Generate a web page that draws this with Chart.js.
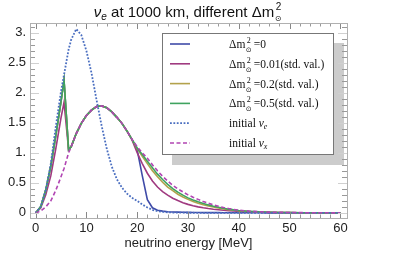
<!DOCTYPE html>
<html>
<head>
<meta charset="utf-8">
<script src="https://cdn.jsdelivr.net/npm/chart.js@4.4.1/dist/chart.umd.min.js"></script>
<style>
  html, body { margin: 0; padding: 0; background: #fff; }
  #wrap { width: 415px; height: 259px; }
</style>
</head>
<body>
<div id="wrap"><canvas id="c" width="415" height="259"></canvas></div>
<script>
// energy grid [MeV]
const energy = [0, 1, 2, 3, 4, 5, 5.6, 6.5, 7, 8, 9, 10, 11, 12, 13, 14, 15, 16, 17, 18, 19,
  20, 21, 22, 23, 24, 25, 26, 27, 28, 29, 30, 31, 32, 33, 34, 35, 36, 37, 38, 39, 40,
  42, 44, 46, 48, 50, 52, 54, 56, 58, 60];

// initial nu_e (dotted)
const nuE = [0, 0.1, 0.38, 0.82, 1.45, 2.02, 2.3, 2.72, 2.88, 3.06, 2.96, 2.7, 2.33, 1.88, 1.45, 1.07, 0.77, 0.56, 0.42, 0.32, 0.25,
  0.2, 0.14, 0.09, 0.05, 0.03, 0.018, 0.01, 0.006, 0.004, 0.003, 0.002, 0.002, 0.001, 0.001, 0.001, 0.001, 0, 0, 0, 0, 0,
  0, 0, 0, 0, 0, 0, 0, 0, 0, 0];
// initial nu_x (dashed)
const nuX = [0, 0.03, 0.1, 0.2, 0.38, 0.6, 0.74, 1.0, 1.1, 1.32, 1.49, 1.62, 1.71, 1.77, 1.78, 1.75, 1.68, 1.59, 1.49, 1.36, 1.22,
  1.1, 1.0, 0.91, 0.8, 0.7, 0.61, 0.53, 0.46, 0.4, 0.35, 0.3, 0.26, 0.225, 0.19, 0.16, 0.135, 0.11, 0.09, 0.072, 0.057, 0.045,
  0.03, 0.02, 0.013, 0.009, 0.006, 0.004, 0.003, 0.002, 0.001, 0.001];
// dm^2 = 0
const dm0 = [0, 0.1, 0.38, 0.78, 1.3, 1.85, 2.2, 1.05, 1.1, 1.32, 1.49, 1.62, 1.71, 1.77, 1.78, 1.75, 1.68, 1.59, 1.49, 1.36, 1.22,
  1.05, 0.62, 0.22, 0.085, 0.045, 0.03, 0.02, 0.015, 0.012, 0.01, 0.008, 0.007, 0.006, 0.005, 0.005, 0.004, 0.004, 0.003, 0.003, 0.003, 0.002,
  0.002, 0.002, 0.001, 0.001, 0.001, 0.001, 0.001, 0.001, 0.001, 0.001];
// dm^2 = 0.01
const dm001 = [0, 0.08, 0.3, 0.62, 1.08, 1.58, 1.84, 1.05, 1.1, 1.32, 1.49, 1.62, 1.71, 1.77, 1.78, 1.75, 1.68, 1.59, 1.49, 1.36, 1.21,
  1.0, 0.82, 0.66, 0.53, 0.43, 0.355, 0.295, 0.245, 0.205, 0.17, 0.142, 0.12, 0.1, 0.085, 0.072, 0.061, 0.052, 0.044, 0.037, 0.031, 0.026,
  0.018, 0.012, 0.008, 0.006, 0.004, 0.003, 0.002, 0.0015, 0.001, 0.001];
// dm^2 = 0.2
const dm02 = [0, 0.1, 0.38, 0.78, 1.3, 1.85, 2.2, 1.05, 1.1, 1.32, 1.49, 1.62, 1.71, 1.77, 1.78, 1.75, 1.68, 1.59, 1.49, 1.36, 1.22,
  1.07, 0.94, 0.82, 0.7, 0.6, 0.51, 0.43, 0.37, 0.31, 0.265, 0.225, 0.19, 0.162, 0.137, 0.115, 0.097, 0.081, 0.067, 0.055, 0.045, 0.036,
  0.024, 0.015, 0.01, 0.006, 0.004, 0.003, 0.002, 0.0015, 0.001, 0.001];
// dm^2 = 0.5
const dm05 = [0, 0.1, 0.38, 0.78, 1.3, 1.85, 2.21, 1.05, 1.1, 1.32, 1.49, 1.62, 1.71, 1.77, 1.78, 1.75, 1.68, 1.59, 1.49, 1.36, 1.22,
  1.08, 0.97, 0.86, 0.75, 0.645, 0.555, 0.475, 0.405, 0.345, 0.295, 0.25, 0.215, 0.185, 0.158, 0.133, 0.112, 0.093, 0.076, 0.062, 0.05, 0.04,
  0.027, 0.017, 0.011, 0.007, 0.005, 0.003, 0.002, 0.0015, 0.001, 0.001];

const xTicks = [0, 10, 20, 30, 40, 50, 60];
const yTicks = [0, 0.5, 1, 1.5, 2, 2.5, 3];
const yLabels = ['0', '0.5', '1.', '1.5', '2.', '2.5', '3.'];

const pts = arr => energy.map((e, i) => ({ x: e, y: arr[i] }));

const SANS = '"Liberation Sans", Arial, sans-serif';
const SERIF = '"Liberation Serif", "Times New Roman", serif';

// legend entries: dataset index + label parts
const legendRows = [
  { ds: 0, kind: 'dm', val: '=0' },
  { ds: 1, kind: 'dm', val: '=0.01(std. val.)' },
  { ds: 2, kind: 'dm', val: '=0.2(std. val.)' },
  { ds: 3, kind: 'dm', val: '=0.5(std. val.)' },
  { ds: 4, kind: 'nu', val: 'e' },
  { ds: 5, kind: 'nu', val: 'x' },
];

const framePlugin = {
  id: 'frame',
  afterDatasetsDraw(chart) {
    const ctx = chart.ctx;
    // legend box with shadow
    const bx = 162, by = 33, bw = 171, bh = 121;
    ctx.save();
    ctx.fillStyle = '#cccccc';
    ctx.fillRect(bx + 10, by + 10, bw + 1, bh + 1);
    ctx.fillStyle = '#fff';
    ctx.fillRect(bx, by, bw, bh);
    ctx.strokeStyle = '#777';
    ctx.lineWidth = 1;
    ctx.strokeRect(bx + 0.5, by + 0.5, bw, bh);
    legendRows.forEach((r, i) => {
      const ds = chart.data.datasets[r.ds];
      const y = 44 + i * 19.8;
      ctx.beginPath();
      ctx.strokeStyle = ds.borderColor;
      ctx.lineWidth = ds.borderWidth;
      ctx.setLineDash(ds.borderDash || []);
      ctx.moveTo(170, y); ctx.lineTo(190, y);
      ctx.stroke();
      ctx.setLineDash([]);
      ctx.fillStyle = '#111';
      ctx.textBaseline = 'alphabetic';
      let x = 229;
      const base = y + 4;
      if (r.kind === 'dm') {
        ctx.font = '11.5px ' + SERIF;
        ctx.fillText('Δm', x, base); x += ctx.measureText('Δm').width + 0.5;
        ctx.font = '8px ' + SERIF;
        ctx.fillText('2', x + 1, base - 5);
        ctx.font = '7px "DejaVu Sans"';
        ctx.fillText('⊙', x, base + 4);
        x += 8;
        ctx.font = '11.5px ' + SERIF;
        ctx.fillText(r.val, x, base);
      } else {
        ctx.font = '11.5px ' + SERIF;
        ctx.fillText('initial ', x, base); x += ctx.measureText('initial ').width;
        ctx.font = 'italic 11.5px ' + SERIF;
        ctx.fillText('ν', x, base); x += ctx.measureText('ν').width;
        ctx.font = 'italic 8px ' + SERIF;
        ctx.fillText(r.val, x, base + 2);
      }
    });
    ctx.restore();
  },
  afterDraw(chart) {
    const ctx = chart.ctx, a = chart.chartArea;
    const xs = chart.scales.x, ys = chart.scales.y;
    ctx.save();
    ctx.lineWidth = 1;
    // x ticks, bottom and top
    for (let e = 0; e <= 60; e += 2) {
      const px = Math.round(xs.getPixelForValue(e)) + 0.5;
      const major = e % 10 === 0;
      const len = major ? 6 : 3.5;
      ctx.strokeStyle = major ? '#888' : '#999';
      ctx.beginPath();
      ctx.moveTo(px, a.bottom); ctx.lineTo(px, a.bottom - len);
      ctx.moveTo(px, a.top); ctx.lineTo(px, a.top + len);
      ctx.stroke();
    }
    // y ticks, left and right
    for (let k = 0; k <= 31; k++) {
      const v = k / 10;
      const py = Math.round(ys.getPixelForValue(v)) + 0.5;
      const major = k % 5 === 0;
      const len = major ? 9 : 5;
      ctx.strokeStyle = major ? '#d0d0d0' : '#999';
      ctx.beginPath();
      ctx.moveTo(a.left, py); ctx.lineTo(a.left + len, py);
      ctx.moveTo(a.right, py); ctx.lineTo(a.right - len, py);
      ctx.stroke();
    }
    // frame
    ctx.strokeStyle = '#b0b0b0';
    ctx.strokeRect(Math.round(a.left) + 0.5, Math.round(a.top) + 0.5,
      Math.round(a.right - a.left), Math.round(a.bottom - a.top));

    // title: nu_e at 1000 km, different Δm^2_⊙
    ctx.fillStyle = '#111';
    ctx.textBaseline = 'alphabetic';
    const main = ' at 1000 km, different Δm';
    ctx.font = 'italic 15px ' + SANS;
    const wNu = ctx.measureText('ν').width;
    ctx.font = 'italic 10px ' + SANS;
    const wE = ctx.measureText('e').width;
    ctx.font = '15px ' + SANS;
    const wMain = ctx.measureText(main).width;
    const total = wNu + wE + wMain + 9;
    let x = (a.left + a.right) / 2 - total / 2;
    const base = 17;
    ctx.font = 'italic 15px ' + SANS;
    ctx.fillText('ν', x, base); x += wNu;
    ctx.font = 'italic 10px ' + SANS;
    ctx.fillText('e', x, base + 3); x += wE;
    ctx.font = '15px ' + SANS;
    ctx.fillText(main, x, base); x += wMain;
    ctx.font = '10px ' + SANS;
    ctx.fillText('2', x + 1.5, base - 7);
    ctx.font = '8px "DejaVu Sans"';
    ctx.fillText('⊙', x + 0.5, base + 4);
    ctx.restore();
  }
};

new Chart(document.getElementById('c'), {
  type: 'line',
  data: {
    datasets: [
      { label: 'dm0', data: pts(dm0), borderColor: '#3f4ba8', borderWidth: 1.6, order: 6 },
      { label: 'dm001', data: pts(dm001), borderColor: '#a03a80', borderWidth: 1.6, order: 5 },
      { label: 'dm02', data: pts(dm02), borderColor: '#b3a24c', borderWidth: 1.6, order: 4 },
      { label: 'dm05', data: pts(dm05), borderColor: '#3fa35f', borderWidth: 1.6, order: 3 },
      { label: 'nuE', data: pts(nuE), borderColor: '#4a6ec0', borderWidth: 1.8, borderDash: [1.8, 1.6], order: 2 },
      { label: 'nuX', data: pts(nuX), borderColor: '#b145b3', borderWidth: 1.6, borderDash: [4, 2.5], order: 1 },
    ]
  },
  options: {
    responsive: false,
    animation: false,
    events: [],
    layout: { padding: { top: 23, left: 0, right: 68, bottom: 0 } },
    elements: { point: { radius: 0 }, line: { tension: 0, fill: false } },
    plugins: { legend: { display: false }, tooltip: { enabled: false }, title: { display: false } },
    scales: {
      x: {
        type: 'linear', min: -1.1, max: 61.3,
        afterBuildTicks: s => { s.ticks = xTicks.map(v => ({ value: v })); },
        afterFit: s => { s.height = 41; },
        grid: { display: false, drawTicks: false },
        border: { display: false },
        ticks: { color: '#222', font: { family: SANS, size: 13 }, padding: 3, maxRotation: 0, autoSkip: false },
        title: { display: true, text: 'neutrino energy [MeV]', color: '#222', font: { family: SANS, size: 13 }, padding: { top: 0, bottom: 8 } }
      },
      y: {
        type: 'linear', min: -0.085, max: 3.16,
        afterBuildTicks: s => { s.ticks = yTicks.map(v => ({ value: v })); },
        afterFit: s => { s.width = 30; },
        grid: { display: false, drawTicks: false },
        border: { display: false },
        ticks: {
          color: '#222', font: { family: SANS, size: 13 }, padding: 4, autoSkip: false,
          callback: v => yLabels[yTicks.indexOf(v)]
        }
      }
    }
  },
  plugins: [framePlugin]
});
</script>
</body>
</html>
